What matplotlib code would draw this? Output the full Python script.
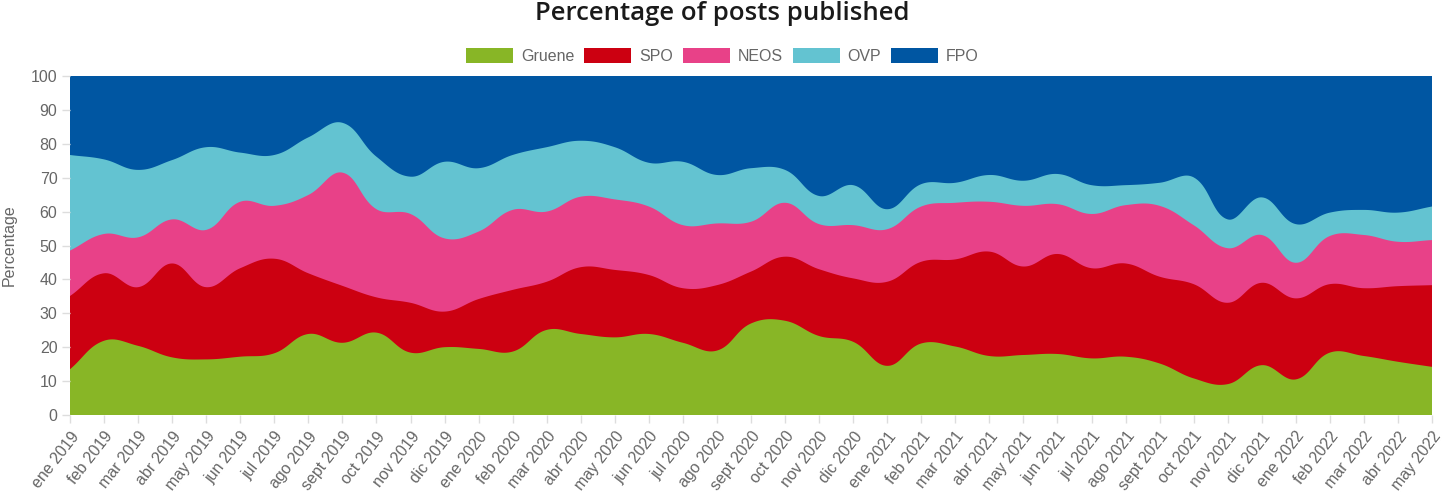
import numpy as np
import matplotlib.pyplot as plt

# ================
# Data (percent of posts per party, per month)
# ================
months = ['ene 2019', 'feb 2019', 'mar 2019', 'abr 2019', 'may 2019', 'jun 2019', 'jul 2019',
          'ago 2019', 'sept 2019', 'oct 2019', 'nov 2019', 'dic 2019',
          'ene 2020', 'feb 2020', 'mar 2020', 'abr 2020', 'may 2020', 'jun 2020', 'jul 2020',
          'ago 2020', 'sept 2020', 'oct 2020', 'nov 2020', 'dic 2020',
          'ene 2021', 'feb 2021', 'mar 2021', 'abr 2021', 'may 2021', 'jun 2021', 'jul 2021',
          'ago 2021', 'sept 2021', 'oct 2021', 'nov 2021', 'dic 2021',
          'ene 2022', 'feb 2022', 'mar 2022', 'abr 2022', 'may 2022']

gruene = [13.5, 21.9, 20.4, 17.0, 16.4, 17.2, 18.2, 23.9, 21.3, 24.3, 18.4, 20.0, 19.5, 18.7,
          25.1, 23.9, 22.9, 23.9, 21.3, 19.0, 27.0, 27.8, 23.3, 21.6, 14.5, 21.1, 20.2, 17.4,
          17.7, 18.0, 16.7, 17.2, 15.2, 10.8, 9.1, 14.7, 10.5, 18.4, 17.4, 15.7, 14.2]
spo = [21.6, 19.9, 17.3, 27.7, 21.3, 26.1, 27.9, 17.9, 16.8, 10.4, 14.7, 10.5, 14.7, 18.2,
       14.2, 19.7, 19.9, 17.4, 16.1, 19.3, 15.3, 18.9, 19.7, 18.7, 24.8, 24.1, 25.7, 30.8,
       26.1, 29.5, 26.6, 27.5, 25.6, 27.8, 24.0, 24.3, 23.9, 20.2, 20.0, 22.3, 24.1]
neos = [13.4, 11.6, 14.7, 13.0, 16.9, 19.6, 15.6, 23.1, 33.4, 26.0, 26.2, 21.6, 19.9, 23.6,
        20.7, 20.8, 20.8, 20.2, 18.6, 18.2, 14.7, 15.9, 13.3, 15.7, 15.5, 16.3, 16.7, 14.7,
        17.9, 14.7, 16.0, 17.2, 20.9, 17.4, 16.1, 14.1, 10.5, 14.2, 15.7, 13.1, 13.3]
ovp = [28.2, 22.0, 19.9, 17.5, 24.4, 14.5, 15.0, 17.0, 14.7, 15.5, 11.0, 22.6, 18.7, 16.2,
       19.0, 16.5, 15.4, 12.9, 18.7, 14.3, 15.8, 9.7, 8.3, 11.8, 5.9, 6.6, 5.9, 7.9,
       7.4, 8.9, 8.5, 5.9, 6.8, 14.1, 8.5, 11.1, 11.4, 6.9, 7.4, 8.6, 9.9]
fpo = [23.3, 24.6, 27.7, 24.8, 21.0, 22.6, 23.3, 18.1, 13.8, 23.8, 29.7, 25.3, 27.2, 23.3,
       21.0, 19.1, 21.0, 25.6, 25.3, 29.2, 27.2, 27.7, 35.4, 32.2, 39.3, 31.9, 31.5, 29.2,
       30.9, 28.9, 32.2, 32.2, 31.5, 29.9, 42.3, 35.8, 43.7, 40.3, 39.5, 40.3, 38.5]

names = ['Gruene', 'SPO', 'NEOS', 'OVP', 'FPO']
series = [gruene, spo, neos, ovp, fpo]
colors = ['#88b626', '#cc0011', '#e84188', '#63c3d1', '#0056a2']


# ================
# Smooth curve (bezier with tension, as in Chart.js)
# ================
def smooth(x, y, tension=0.4, sx=34.0, sy=3.39, n=24):
    px = np.asarray(x, float) * sx
    py = np.asarray(y, float) * sy
    m = len(px)
    cp_prev = np.zeros((m, 2))
    cp_next = np.zeros((m, 2))
    for i in range(m):
        pr = (px[max(i - 1, 0)], py[max(i - 1, 0)])
        cu = (px[i], py[i])
        nx = (px[min(i + 1, m - 1)], py[min(i + 1, m - 1)])
        d01 = np.hypot(cu[0] - pr[0], cu[1] - pr[1])
        d12 = np.hypot(nx[0] - cu[0], nx[1] - cu[1])
        tot = d01 + d12
        s01 = d01 / tot if tot else 0
        s12 = d12 / tot if tot else 0
        fa, fb = tension * s01, tension * s12
        cp_prev[i] = (cu[0] - fa * (nx[0] - pr[0]), cu[1] - fa * (nx[1] - pr[1]))
        cp_next[i] = (cu[0] + fb * (nx[0] - pr[0]), cu[1] + fb * (nx[1] - pr[1]))
    t = np.linspace(0, 1, n)[:, None]
    pts = []
    for i in range(m - 1):
        p0 = np.array([px[i], py[i]])
        p3 = np.array([px[i + 1], py[i + 1]])
        seg = ((1 - t) ** 3 * p0 + 3 * (1 - t) ** 2 * t * cp_next[i]
               + 3 * (1 - t) * t ** 2 * cp_prev[i + 1] + t ** 3 * p3)
        pts.append(seg if i == 0 else seg[1:])
    pts = np.vstack(pts)
    return pts[:, 0] / sx, np.clip(pts[:, 1] / sy, 0, 100)


# ================
# Plot
# ================
plt.rcParams['font.family'] = ['Liberation Sans', 'DejaVu Sans']

fig = plt.figure(figsize=(14.45, 4.96), dpi=100)
ax = fig.add_axes([70 / 1445, 1 - 415 / 496, (1432 - 70) / 1445, (415 - 76) / 496])

x = np.arange(len(months))
cum = np.cumsum(np.array(series), axis=0)

# draw from top layer down, each filled to zero so no seams appear
for k in range(len(series) - 1, -1, -1):
    sxv, syv = smooth(x, cum[k])
    poly_x = np.concatenate([sxv, [sxv[-1], sxv[0]]])
    poly_y = np.concatenate([syv, [0, 0]])
    ax.fill(poly_x, poly_y, color=colors[k], lw=0, label=names[k])

ax.set_xlim(0, len(months) - 1)
ax.set_ylim(0, 100)
ax.set_yticks(range(0, 101, 10))
ax.set_xticks(x)
ax.set_xticklabels(months, rotation=52, ha='right', va='top', rotation_mode='anchor')
for s in ax.spines.values():
    s.set_visible(False)
ax.tick_params(axis='both', colors='#dddddd', labelcolor='#666666', labelsize=11.5,
               length=6, width=1)
ax.tick_params(axis='x', pad=4)
ax.tick_params(axis='y', pad=3)
ax.set_ylabel('Percentage', color='#666666', fontsize=11.5, labelpad=10)

fig.suptitle('Percentage of posts published', y=0.997, va='top', fontsize=18.5,
             fontweight='semibold', color='#1a1a1a', family=['Open Sans', 'DejaVu Sans'])

handles, labels = ax.get_legend_handles_labels()
order = [labels.index(n) for n in names]
fig.legend([handles[i] for i in order], [labels[i] for i in order],
           loc='center', bbox_to_anchor=(0.5, 1 - 56 / 496), ncol=5, frameon=False,
           fontsize=11.5, labelcolor='#666666', handlelength=2.95, handleheight=1.1,
           handletextpad=0.5, columnspacing=0.6)

fig.savefig('out.png', dpi=100)
